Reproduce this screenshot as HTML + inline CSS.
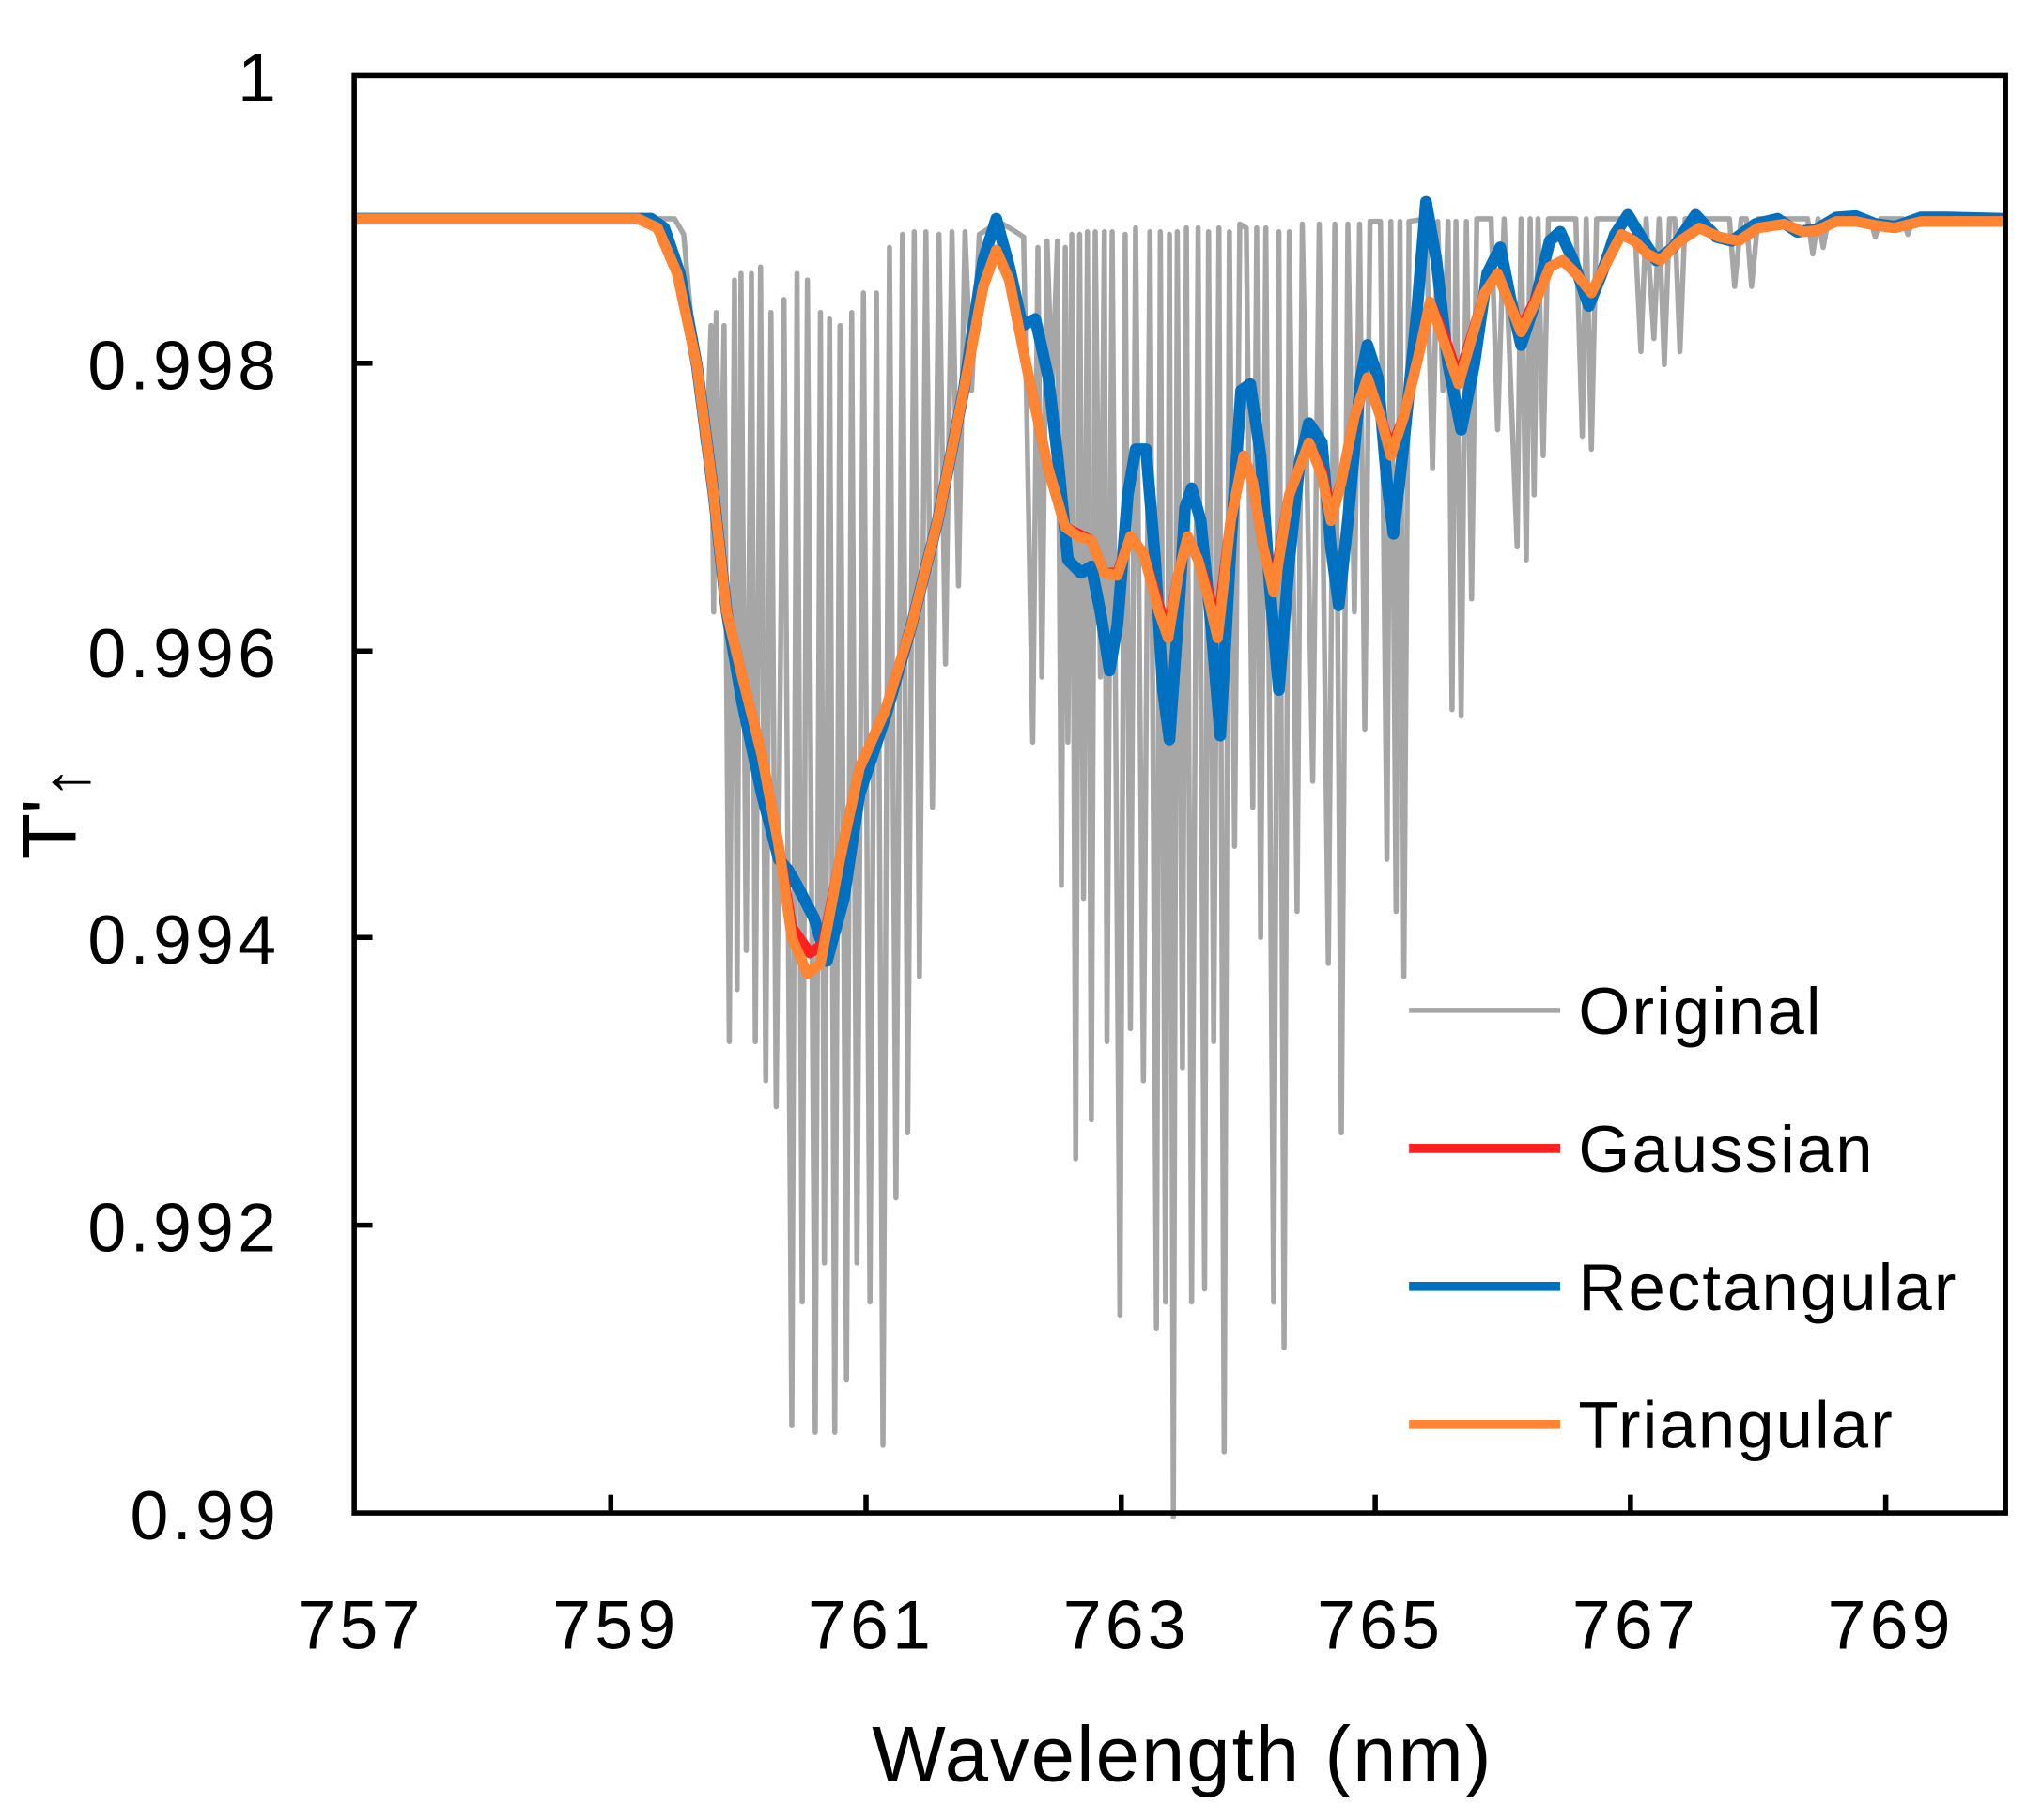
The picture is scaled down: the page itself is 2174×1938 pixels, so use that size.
<!DOCTYPE html>
<html><head><meta charset="utf-8"><style>html,body{margin:0;padding:0;background:#fff}svg{display:block}</style></head><body>
<svg width="2174" height="1938" viewBox="0 0 1568 1397.8" xmlns="http://www.w3.org/2000/svg" font-family="Liberation Sans, sans-serif">
<rect width="1568" height="1398" fill="#fff"/>
<polyline fill="none" stroke="#a6a6a6" stroke-width="4" stroke-linejoin="round" points="272,168 518,168 525,180 532,260 540,340 543,335 546,250 548,470 550,240 553,430 556,250 560,800 564,215 566,760 569,210 573,730 577,210 580,800 584,205 588,830 592,240 596,850 602,230 608,1095 612,210 616,1000 620,215 626,1100 630,240 633,970 637,245 641,1100 645,250 650,1060 654,240 658,970 663,225 668,1000 673,225 678,1110 683,190 688,920 693,180 697,870 702,178 706,750 711,178 716,620 721,180 726,510 731,178 736,450 741,178 746,300 752,180 760,175 770,172 780,178 786,182 793,570 797,190 800,520 804,185 808,300 812,185 815,680 818,190 820,570 823,180 826,890 829,180 832,690 835,178 838,860 841,178 845,520 848,178 850,800 854,178 860,1010 864,180 868,790 872,175 878,830 883,178 888,1020 891,178 895,1000 898,180 901,1165 904,178 908,820 911,175 915,1000 920,175 925,990 928,178 932,800 936,175 940,1115 944,178 948,650 952,172 957,175 962,620 965,175 968,720 972,175 978,1000 982,178 986,1035 990,178 996,700 1000,172 1008,600 1013,172 1020,740 1025,172 1030,870 1035,172 1040,470 1044,172 1048,560 1052,170 1060,170 1065,660 1068,170 1072,700 1075,170 1078,750 1082,170 1095,168 1100,360 1104,170 1108,300 1112,170 1115,545 1118,170 1122,550 1126,170 1130,460 1134,168 1145,168 1150,330 1155,168 1165,420 1168,168 1172,430 1175,168 1178,380 1181,168 1185,350 1189,168 1210,168 1215,335 1218,168 1222,345 1226,168 1255,168 1260,270 1264,168 1270,260 1274,168 1278,280 1282,168 1286,168 1290,270 1294,168 1328,168 1332,220 1337,168 1341,168 1345,220 1350,168 1388,168 1392,195 1396,168 1400,190 1404,168 1436,168 1440,182 1444,168 1461,168 1465,180 1469,168 1540,168"/>
<polyline fill="none" stroke="#0070c0" stroke-width="9" stroke-linejoin="round" points="272,168 500,168 510,175 522,210 535,280 548,380 558,470 570,540 585,610 598,660 605,668 612,680 625,705 635,738 648,690 660,610 680,550 700,480 720,400 740,300 755,200 765,168 775,205 785,250 795,245 805,290 812,350 820,430 830,440 838,435 845,470 852,515 858,480 866,380 872,345 880,345 887,430 893,530 898,568 905,470 910,390 915,375 922,400 930,480 937,565 945,420 953,300 960,295 968,350 975,450 982,530 990,430 998,355 1005,325 1015,340 1022,420 1028,465 1035,400 1045,290 1050,265 1058,290 1065,370 1070,410 1078,340 1088,240 1095,155 1103,200 1112,280 1122,330 1132,280 1142,210 1152,190 1160,230 1168,265 1178,235 1190,185 1198,178 1208,200 1220,235 1230,210 1240,180 1250,165 1262,185 1272,200 1285,190 1302,165 1318,182 1330,185 1348,172 1365,168 1380,178 1395,176 1410,167 1425,166 1440,172 1455,174 1475,167 1495,167 1540,168"/>
<polyline fill="none" stroke="#ff2020" stroke-width="8" stroke-linejoin="round" points="272,168 490,168 505,175 520,210 535,280 548,380 558,470 570,520 585,580 598,650 608,712 622,732 632,725 645,660 660,590 680,545 700,480 720,400 740,300 755,220 765,192 775,215 790,290 805,360 818,405 828,410 838,415 848,440 858,440 868,412 878,425 890,465 897,485 905,440 912,412 920,430 928,455 935,480 945,400 955,350 962,370 970,420 978,450 990,380 1005,340 1015,362 1022,395 1030,370 1040,320 1050,290 1060,320 1068,345 1078,320 1090,270 1098,232 1108,255 1120,290 1130,258 1140,225 1150,210 1160,235 1168,252 1180,228 1190,205 1200,200 1210,210 1222,225 1232,205 1245,180 1255,185 1265,195 1275,200 1290,185 1305,175 1320,182 1335,185 1350,175 1370,172 1385,178 1395,177 1410,170 1425,170 1440,173 1455,175 1475,170 1500,170 1540,170"/>
<polyline fill="none" stroke="#ff8533" stroke-width="8" stroke-linejoin="round" points="272,168 490,168 505,175 520,210 535,280 548,380 558,470 570,520 585,580 598,650 608,720 620,748 630,740 645,660 660,590 680,545 700,480 720,400 740,300 755,220 765,192 775,215 790,290 805,360 818,405 828,412 838,415 848,440 858,442 868,412 878,425 890,470 897,490 905,440 912,412 920,430 928,460 935,490 945,400 955,350 962,370 970,420 978,455 990,380 1005,340 1015,365 1022,400 1030,370 1040,320 1050,290 1060,320 1068,350 1078,320 1090,270 1098,232 1108,260 1120,295 1130,260 1140,225 1150,210 1160,235 1168,255 1180,230 1190,205 1200,200 1210,210 1222,225 1232,205 1245,180 1255,185 1265,195 1275,200 1290,185 1305,175 1320,182 1335,185 1350,175 1370,172 1385,178 1395,177 1410,170 1425,170 1440,173 1455,175 1475,170 1500,170 1540,170"/>
<rect x="272" y="58" width="1268" height="1104" fill="none" stroke="#000" stroke-width="4"/>
<g stroke="#000" stroke-width="4">
<line x1="272" y1="279" x2="286" y2="279"/><line x1="272" y1="500" x2="286" y2="500"/><line x1="272" y1="720" x2="286" y2="720"/><line x1="272" y1="941" x2="286" y2="941"/>
<line x1="469" y1="1162" x2="469" y2="1148"/><line x1="665" y1="1162" x2="665" y2="1148"/><line x1="861" y1="1162" x2="861" y2="1148"/><line x1="1056" y1="1162" x2="1056" y2="1148"/><line x1="1252" y1="1162" x2="1252" y2="1148"/><line x1="1448" y1="1162" x2="1448" y2="1148"/>
</g>
<g font-size="53" text-anchor="end" fill="#000" letter-spacing="3">
<text x="215" y="78">1</text><text x="215" y="299">0.998</text><text x="215" y="520">0.996</text><text x="215" y="740">0.994</text><text x="215" y="961">0.992</text><text x="215" y="1182">0.99</text>
</g>
<g font-size="53" text-anchor="middle" fill="#000" letter-spacing="3">
<text x="277" y="1266">757</text><text x="473" y="1266">759</text><text x="669" y="1266">761</text><text x="865" y="1266">763</text><text x="1060" y="1266">765</text><text x="1256" y="1266">767</text><text x="1452" y="1266">769</text>
</g>
<text x="908" y="1368" font-size="60" text-anchor="middle" letter-spacing="1.5">Wavelength (nm)</text>
<text transform="translate(58,660) rotate(-90)" font-size="58">T'<tspan font-size="50" dy="10">↑</tspan></text>
<g stroke-width="7">
<line x1="1082" y1="776" x2="1198" y2="776" stroke="#a6a6a6" stroke-width="4"/>
<line x1="1082" y1="882" x2="1198" y2="882" stroke="#ff2020"/>
<line x1="1082" y1="988" x2="1198" y2="988" stroke="#0070c0"/>
<line x1="1082" y1="1094" x2="1198" y2="1094" stroke="#ff8533"/>
</g>
<g font-size="51" fill="#000" letter-spacing="1.5">
<text x="1212" y="794">Original</text><text x="1212" y="900">Gaussian</text><text x="1212" y="1006">Rectangular</text><text x="1212" y="1112">Triangular</text>
</g>
</svg>
</body></html>
